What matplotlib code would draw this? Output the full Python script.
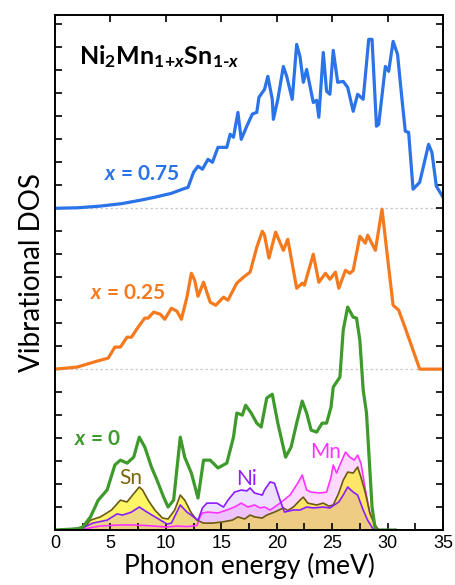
import matplotlib
matplotlib.use("Agg")
import matplotlib.pyplot as plt
from matplotlib.ticker import MultipleLocator
import numpy as np

plt.rcParams['mathtext.fontset'] = 'custom'
plt.rcParams['mathtext.rm'] = 'Lato:bold'
plt.rcParams['mathtext.bf'] = 'Lato:bold'
plt.rcParams['mathtext.it'] = 'Lato:bold:italic'

# x = 0.75 total DOS (shifted up by 14)
e_075 = [0, 2, 4, 6, 7.7, 9, 10.5, 11.5, 12.0, 12.5, 12.9, 13.3, 13.8, 14.2, 14.7, 15.5,
         15.8, 16.1, 16.5, 16.8, 17.3, 17.8, 18.2, 18.4, 18.9, 19.2, 19.6, 19.7, 20.1,
         20.6, 20.9, 21.4, 21.8, 22.1, 22.4, 22.7, 23.3, 23.6, 23.8, 24.2, 24.5, 24.8,
         25.1, 25.5, 26.0, 26.4, 26.9, 27.3, 27.8, 28.3, 28.6, 29.0, 29.2, 29.8, 30.1,
         30.5, 30.9, 31.3, 31.6, 31.9, 32.3, 32.9, 33.7, 34.0, 34.4, 35.0]
dos_075 = [0, 0.02, 0.09, 0.2, 0.35, 0.48, 0.65, 0.83, 0.91, 1.57, 1.83, 1.70, 2.13, 2.0,
           2.65, 2.65, 3.22, 3.09, 4.17, 3.0, 3.57, 4.1, 4.17, 4.83, 5.17, 5.74, 4.74,
           3.87, 4.74, 6.17, 5.74, 4.74, 7.13, 6.6, 5.48, 6.04, 4.6, 4.7, 3.96, 6.78,
           5.09, 4.96, 6.87, 5.48, 5.52, 5.26, 4.22, 4.96, 4.74, 7.35, 7.35, 3.57, 3.65,
           6.17, 5.96, 7.26, 6.7, 4.74, 3.35, 3.3, 0.83, 1.13, 2.78, 2.43, 0.96, 0.48]

# x = 0.25 total DOS (shifted up by 7)
e_025 = [0, 2.0, 3.8, 4.8, 5.4, 5.9, 6.5, 6.9, 7.5, 8.1, 8.4, 8.9, 9.5, 9.9, 10.5, 11.0,
         11.4, 11.9, 12.3, 12.6, 12.9, 13.4, 14.0, 14.5, 15.2, 15.6, 16.4, 17.0, 17.6,
         18.2, 18.7, 18.9, 19.3, 19.9, 20.6, 21.0, 21.8, 22.3, 22.5, 23.3, 23.8, 24.4,
         24.8, 25.3, 25.6, 26.2, 26.6, 26.9, 27.5, 28.0, 28.2, 28.9, 29.5, 30.1, 30.5,
         31.0, 31.6, 32.2, 32.9, 35.0]
dos_025 = [0, 0.09, 0.35, 0.48, 0.96, 0.96, 1.39, 1.39, 1.83, 2.22, 2.22, 2.48, 2.39,
           2.17, 2.65, 2.52, 2.17, 3.13, 4.17, 3.87, 3.17, 3.78, 2.91, 2.78, 3.13, 3.0,
           3.74, 4.0, 4.22, 5.3, 6.0, 5.83, 4.83, 5.96, 5.17, 5.65, 3.52, 3.74, 3.65,
           5.0, 3.78, 4.17, 3.91, 4.22, 3.52, 4.3, 4.17, 4.3, 5.78, 5.48, 5.83, 5.17,
           6.96, 4.43, 2.78, 2.57, 1.78, 0.96, 0, 0]

# x = 0 total DOS
e_000 = [0, 2.0, 2.5, 3.2, 3.9, 4.7, 5.4, 5.9, 6.5, 7.1, 7.6, 8.1, 8.7, 9.2, 9.8, 10.2,
         10.7, 11.3, 11.7, 12.3, 12.9, 13.4, 14.0, 14.7, 15.5, 16.1, 16.4, 16.9, 17.2,
         17.7, 18.2, 18.6, 19.1, 19.6, 20.1, 20.8, 21.3, 21.8, 22.3, 22.7, 23.1, 23.6,
         24.1, 24.5, 24.9, 25.1, 25.7, 26.0, 26.4, 26.9, 27.2, 27.5, 27.8, 28.1, 28.6,
         28.9, 30.7]
dos_000 = [0, 0.05, 0.13, 0.57, 1.3, 1.74, 2.83, 3.04, 2.91, 3.17, 4.04, 3.61, 2.74,
           2.17, 1.43, 1.0, 1.3, 4.04, 3.17, 2.48, 1.39, 3.04, 3.04, 2.7, 2.91, 4.04,
           5.09, 5.0, 5.43, 5.09, 4.65, 4.48, 5.74, 5.91, 4.65, 3.17, 3.61, 4.65, 5.61,
           5.09, 4.35, 4.26, 4.65, 4.65, 5.35, 6.22, 6.65, 8.7, 9.7, 9.26, 9.22, 8.26,
           6.1, 5.09, 1.0, 0, 0]

# partial DOS for x = 0
e_sn = [0, 2.5, 2.8, 3.2, 4.1, 5.1, 5.9, 6.5, 7.0, 7.6, 7.9, 8.4, 9.0, 9.7, 10.2, 10.8,
        11.3, 11.7, 12.3, 12.8, 13.4, 14.2, 15.1, 16.0, 16.5, 17.1, 17.6, 18.0, 18.7,
        19.1, 19.8, 20.6, 21.0, 21.5, 22.1, 22.4, 22.8, 23.6, 24.2, 24.7, 25.1, 25.6,
        26.0, 26.4, 26.9, 27.3, 27.6, 28.0, 28.4, 28.9, 29.2]
dos_sn = [0, 0.05, 0.2, 0.43, 0.57, 0.87, 1.3, 1.22, 1.52, 1.87, 1.74, 1.3, 0.87, 0.52,
          0.48, 0.87, 1.52, 1.3, 0.74, 0.43, 0.3, 0.3, 0.35, 0.43, 0.57, 0.48, 0.65,
          0.57, 0.52, 0.65, 0.78, 0.96, 0.85, 1.0, 1.3, 1.43, 1.17, 1.09, 1.17, 1.04,
          1.09, 1.61, 2.17, 2.52, 2.48, 2.74, 2.3, 1.61, 0.74, 0.2, 0]

e_ni = [0, 2.5, 3.4, 4.7, 5.6, 6.1, 6.9, 7.6, 8.3, 9.2, 10.1, 10.5, 11.3, 11.9, 12.5,
        12.9, 13.3, 13.7, 14.6, 15.2, 15.6, 16.2, 16.8, 17.3, 17.6, 18.0, 18.7, 18.9,
        19.4, 19.8, 20.3, 20.7, 21.5, 22.1, 22.7, 23.3, 24.2, 24.8, 25.6, 26.0, 26.4,
        26.9, 27.3, 27.8, 28.2, 28.7, 29.0]
dos_ni = [0, 0.09, 0.3, 0.43, 0.7, 0.65, 0.78, 1.0, 0.78, 0.52, 0.26, 0.3, 1.09, 0.78,
          0.57, 0.43, 0.96, 1.17, 1.17, 1.0, 1.3, 1.65, 1.74, 1.7, 1.83, 1.61, 1.52,
          1.74, 2.09, 2.04, 1.3, 0.78, 0.87, 0.87, 1.0, 0.96, 1.0, 0.96, 1.22, 1.52,
          1.87, 1.65, 1.52, 0.87, 0.43, 0.04, 0]

e_mn = [0, 2.5, 3.2, 4.0, 5.0, 6.0, 7.0, 8.0, 9.0, 10.0, 11.0, 12.0, 12.8, 13.1, 13.3,
        13.8, 14.7, 15.5, 16.2, 16.8, 17.4, 18.0, 18.5, 18.9, 19.4, 19.8, 20.3, 21.2,
        21.9, 22.3, 22.7, 23.1, 23.9, 24.5, 24.9, 25.1, 25.4, 25.7, 26.2, 26.6, 27.0,
        27.3, 27.6, 28.0, 28.4, 28.9, 29.2]
dos_mn = [0, 0.02, 0.1, 0.17, 0.2, 0.22, 0.22, 0.2, 0.17, 0.13, 0.17, 0.15, 0.2, 0.6,
          0.74, 0.78, 0.74, 0.87, 1.0, 1.17, 1.0, 1.09, 0.96, 1.0, 0.87, 1.0, 1.17, 1.52,
          2.04, 2.39, 1.74, 1.65, 1.61, 1.65, 2.3, 2.83, 2.48, 2.83, 3.39, 3.17, 3.04,
          3.26, 2.91, 1.74, 0.74, 0.13, 0]

offsets = [14, 7]

fig = plt.figure(figsize=(4.55, 5.85), dpi=100)
ax = fig.add_axes([0.1209, 0.094, 0.8527, 0.880])

# partial DOS fills (order matters for the colour overlap)
ax.fill_between(e_mn, 0, dos_mn, color='#ff00ff', alpha=0.15, lw=0)
ax.plot(e_mn, dos_mn, color='#ff33ff', lw=1.2)
ax.fill_between(e_sn, 0, dos_sn, color='#fff000', alpha=0.6, lw=0)
ax.plot(e_sn, dos_sn, color='#6b5a10', lw=1.2)
ax.fill_between(e_ni, 0, dos_ni, color='#aa64ff', alpha=0.2, lw=0)
ax.plot(e_ni, dos_ni, color='#8a1cff', lw=1.2)

# baselines
for off in offsets:
    ax.axhline(off, color='#c8c8c8', lw=0.9, ls=(0, (2, 2)), zorder=0)

ax.plot(e_000, dos_000, color='#3d9a2b', lw=2.3)
ax.plot(e_025, np.array(dos_025) + offsets[1], color='#f57a1e', lw=2.3)
ax.plot(e_075, np.array(dos_075) + offsets[0], color='#2b73e8', lw=2.3)

ax.text(5.9, 3.95, r'$x$ = 0', color='#3d9a2b', fontsize=15, fontweight='bold',
        family='Lato', ha='right', va='center')
ax.text(10.0, 10.3, r'$x$ = 0.25', color='#f57a1e', fontsize=15, fontweight='bold',
        family='Lato', ha='right', va='center')
ax.text(11.2, 15.5, r'$x$ = 0.75', color='#2b73e8', fontsize=15, fontweight='bold',
        family='Lato', ha='right', va='center')
ax.text(2.2, 20.6, r'Ni$_2$Mn$_{1\!+\!x}$Sn$_{1\text{-}x}$', color='black', fontsize=18,
        fontweight='bold', family='Lato', ha='left', va='center')

ax.text(6.8, 2.25, 'Sn', color='#7a6608', fontsize=15, family='Lato', ha='center', va='center')
ax.text(17.3, 2.2, 'Ni', color='#9a1cff', fontsize=15, family='Lato', ha='center', va='center')
ax.text(24.4, 3.4, 'Mn', color='#ff33ff', fontsize=15, family='Lato', ha='center', va='center')

ax.set_xlim(0, 35)
ax.set_ylim(0, 22.4)
ax.xaxis.set_major_locator(MultipleLocator(5))
ax.xaxis.set_minor_locator(MultipleLocator(2.5))
ax.yaxis.set_major_locator(MultipleLocator(1))
ax.set_yticklabels([])
ax.tick_params(axis='both', which='both', direction='in', top=True, right=True,
               length=5, width=1.2, labelsize=13)
ax.tick_params(axis='x', which='minor', top=False, length=5)
for lab in ax.get_xticklabels():
    lab.set_family('Liberation Sans')
for sp in ax.spines.values():
    sp.set_linewidth(1.4)

ax.set_xlabel('Phonon energy (meV)', fontsize=19, family='Lato', labelpad=1)
ax.set_ylabel('Vibrational DOS', fontsize=20, family='Lato', labelpad=4)

fig.savefig('out.png', dpi=100)
